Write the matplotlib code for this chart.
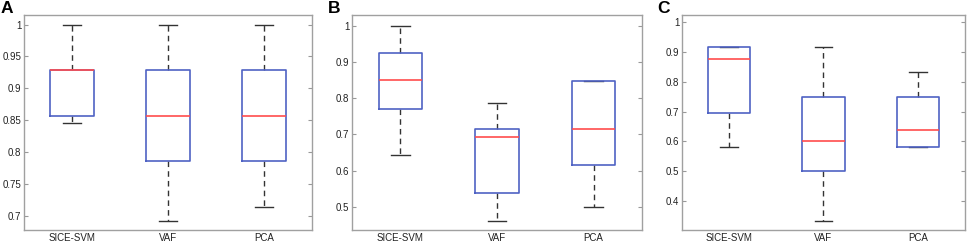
import matplotlib
matplotlib.use("Agg")
import matplotlib.pyplot as plt

plt.rcParams['font.family'] = ['Liberation Sans', 'DejaVu Sans']

methods = ['SICE-SVM', 'VAF', 'PCA']

# (low whisker, Q1, median, Q3, high whisker) per method
stats_a = [(0.846, 0.857, 0.929, 0.929, 1.0),
           (0.692, 0.786, 0.857, 0.929, 1.0),
           (0.714, 0.786, 0.857, 0.929, 1.0)]
stats_b = [(0.643, 0.769, 0.851, 0.924, 1.0),
           (0.462, 0.538, 0.692, 0.714, 0.786),
           (0.500, 0.615, 0.714, 0.846, 0.846)]
stats_c = [(0.583, 0.694, 0.875, 0.917, 0.917),
           (0.333, 0.500, 0.600, 0.750, 0.917),
           (0.583, 0.583, 0.640, 0.750, 0.833)]

panels = ['A', 'B', 'C']
yticks = [[0.7, 0.75, 0.8, 0.85, 0.9, 0.95, 1],
          [0.5, 0.6, 0.7, 0.8, 0.9, 1],
          [0.4, 0.5, 0.6, 0.7, 0.8, 0.9, 1]]
ytlabels = [['0.7', '0.75', '0.8', '0.85', '0.9', '0.95', '1'],
            ['0.5', '0.6', '0.7', '0.8', '0.9', '1'],
            ['0.4', '0.5', '0.6', '0.7', '0.8', '0.9', '1']]
ylims = [(0.6775, 1.015), (0.436, 1.029), (0.303, 1.024)]

fig = plt.figure(figsize=(9.7, 2.43), dpi=100)
W, H = 970, 243
boxes = [(24, 312), (352, 642), (682, 965)]
label_x = [1, 328, 657]

for i, st in enumerate([stats_a, stats_b, stats_c]):
    x0, x1 = boxes[i]
    ax = fig.add_axes([x0 / W, 1 - 230 / H, (x1 - x0) / W, (230 - 15) / H])
    bstats = []
    for name, (lo, q1, med, q3, hi) in zip(methods, st):
        bstats.append(dict(label=name, whislo=lo, q1=q1, med=med, q3=q3, whishi=hi, fliers=[]))
    res = ax.bxp(bstats, widths=0.45, showfliers=False, capwidths=0.19,
                 boxprops=dict(color='#4f62c4', linewidth=1.2),
                 medianprops=dict(color='#ff4d4d', linewidth=1.2),
                 whiskerprops=dict(color='#333333', linestyle=(0, (4, 3)), linewidth=1.0),
                 capprops=dict(color='#333333', linewidth=1.0))
    # boxes over caps, medians on top
    for b in res['boxes']:
        b.set_zorder(3)
    for m in res['medians']:
        m.set_zorder(4)
    ax.set_xlim(0.5, 3.5)
    ax.set_ylim(*ylims[i])
    ax.set_yticks(yticks[i])
    ax.set_yticklabels(ytlabels[i])
    ax.tick_params(direction='in', length=3, color='#999999', labelsize=7,
                   top=True, right=True, labelcolor='#222222')
    ax.tick_params(axis='y', pad=2)
    ax.tick_params(axis='x', length=0, pad=2, labelsize=7)
    for s in ax.spines.values():
        s.set_color('#a0a0a0')
        s.set_linewidth(1.0)
    fig.text(label_x[i] / W, 1 - 1 / H, panels[i], fontsize=12.5, fontweight='bold',
             va='top', ha='left')

fig.savefig('out.png', dpi=100)
